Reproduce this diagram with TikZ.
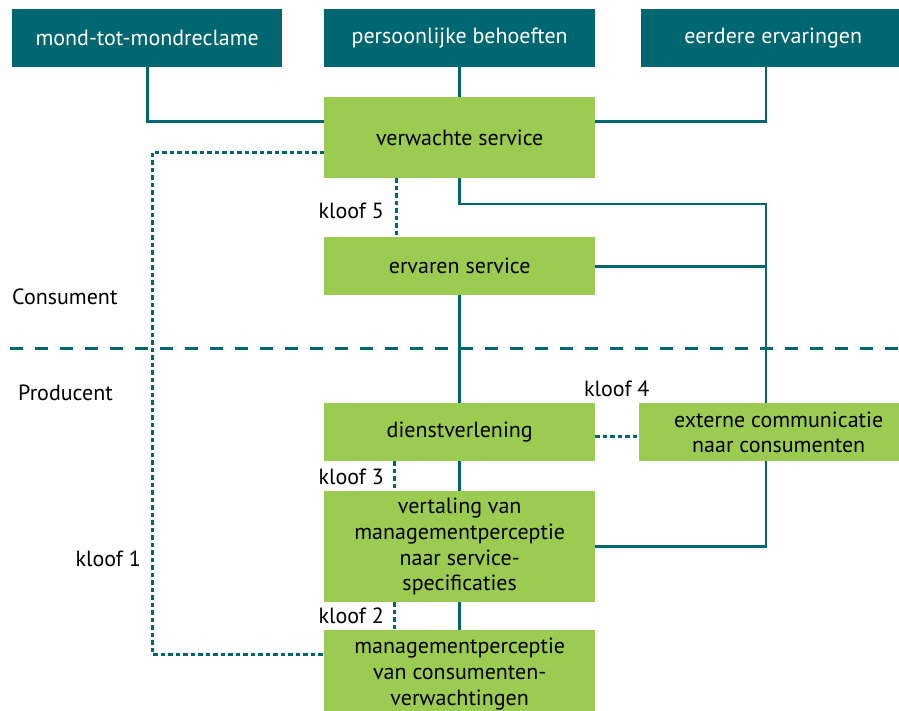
\documentclass[tikz,border=0pt]{standalone}
\usepackage{fontspec}
\setmainfont{PT Sans}
\usetikzlibrary{backgrounds}
\definecolor{tealdark}{RGB}{0,103,112}
\definecolor{leafgreen}{RGB}{156,203,82}
\begin{document}
\begin{tikzpicture}[x=1pt,y=-1pt,
  every node/.style={font=\fontsize{22}{25.7}\selectfont},
  topbox/.style={fill=tealdark, text=white, anchor=north west, inner sep=0pt, minimum height=58pt},
  greenbox/.style={fill=leafgreen, text=black, anchor=north west, inner sep=0pt, align=center},
  link/.style={draw=tealdark, line width=2.8pt},
  gap/.style={draw=tealdark, line width=3pt, dash pattern=on 4.5pt off 3pt},
  divider/.style={draw=tealdark, line width=3pt, dash pattern=on 13pt off 12pt},
  tag/.style={inner sep=0pt, text=black}]

\path[use as bounding box] (0,0) rectangle (899,711);
\clip (0,0) rectangle (899,711);

% influences on the expected service
\node[topbox, minimum width=270pt] (wom) at (12,9) {mond-tot-mondreclame};
\node[topbox, minimum width=271pt] (needs) at (324,9) {persoonlijke behoeften};
\node[topbox, minimum width=264pt] (past) at (641,9) {eerdere ervaringen};

% consumer side
\node[greenbox, minimum width=271pt, minimum height=81pt] (exp) at (324,97) {verwachte service};
\node[greenbox, minimum width=271pt, minimum height=58pt] (perc) at (324,237) {ervaren service};

% producer side
\node[greenbox, minimum width=271pt, minimum height=58pt] (deliv) at (324,403) {dienstverlening};
\node[greenbox, minimum width=279pt, minimum height=58pt] (comm) at (639,403) {externe communicatie\\naar consumenten};
\node[greenbox, minimum width=271pt, minimum height=111pt] (spec) at (324,491) {vertaling van\\managementperceptie\\naar service-\\specificaties};
\node[greenbox, minimum width=271pt, minimum height=88pt] (mgmt) at (324,630) {managementperceptie\\van consumenten-\\verwachtingen};

% side and gap labels
\node[tag, anchor=base west] (cons) at (12,305) {Consument};
\node[tag, anchor=base west] (prod) at (18,400.7) {Producent};
\node[tag, anchor=base east] (k1) at (141,566.7) {kloof 1};
\node[tag, anchor=base east] (k2) at (384,623.3) {kloof 2};
\node[tag, anchor=base east] (k3) at (384,484.3) {kloof 3};
\node[tag, anchor=base west] (k4) at (584,396.7) {kloof 4};
\node[tag, anchor=base east] (k5) at (384,218.3) {kloof 5};

% helper coordinates for the routing
\coordinate (bus) at (766,0);
\coordinate (jog) at (766,204);
\coordinate (kl1) at (152,0);
\coordinate (kl5) at (396,0);
\coordinate (kl23) at (394,0);
\coordinate (divL) at (10,348);
\coordinate (divR) at (899,348);
\coordinate (mgmtin) at ([yshift=20pt]mgmt.west);

\begin{pgfonlayer}{background}
  % solid connections
  \draw[link] (wom.south) |- ([yshift=16.5pt]exp.west);
  \draw[link] (needs.south) -- (exp.north);
  \draw[link] (past.south -| bus) |- ([yshift=16.5pt]exp.east);
  \draw[link] (exp.south) |- (jog) |- (spec.east);
  \draw[link] (perc.east) -- (perc.east -| bus);
  \draw[link] (perc.south) -- (deliv.north);
  \draw[link] (deliv.south) -- (spec.north);
  \draw[link] (spec.south) -- (mgmt.north);

  % gaps
  \draw[gap] ([yshift=-14.5pt]exp.west) -| (kl1 |- mgmtin) -- (mgmtin);
  \draw[gap] (exp.south -| kl5) -- (perc.north -| kl5);
  \draw[gap] (deliv.south -| kl23) -- (spec.north -| kl23);
  \draw[gap] (spec.south -| kl23) -- (mgmt.north -| kl23);
  \draw[gap] ([yshift=-4pt]deliv.east) -- ([yshift=-4pt]deliv.east -| comm.west);

  % consumer / producer boundary
  \draw[divider] (divL) -- (divR);
\end{pgfonlayer}
\end{tikzpicture}
\end{document}
